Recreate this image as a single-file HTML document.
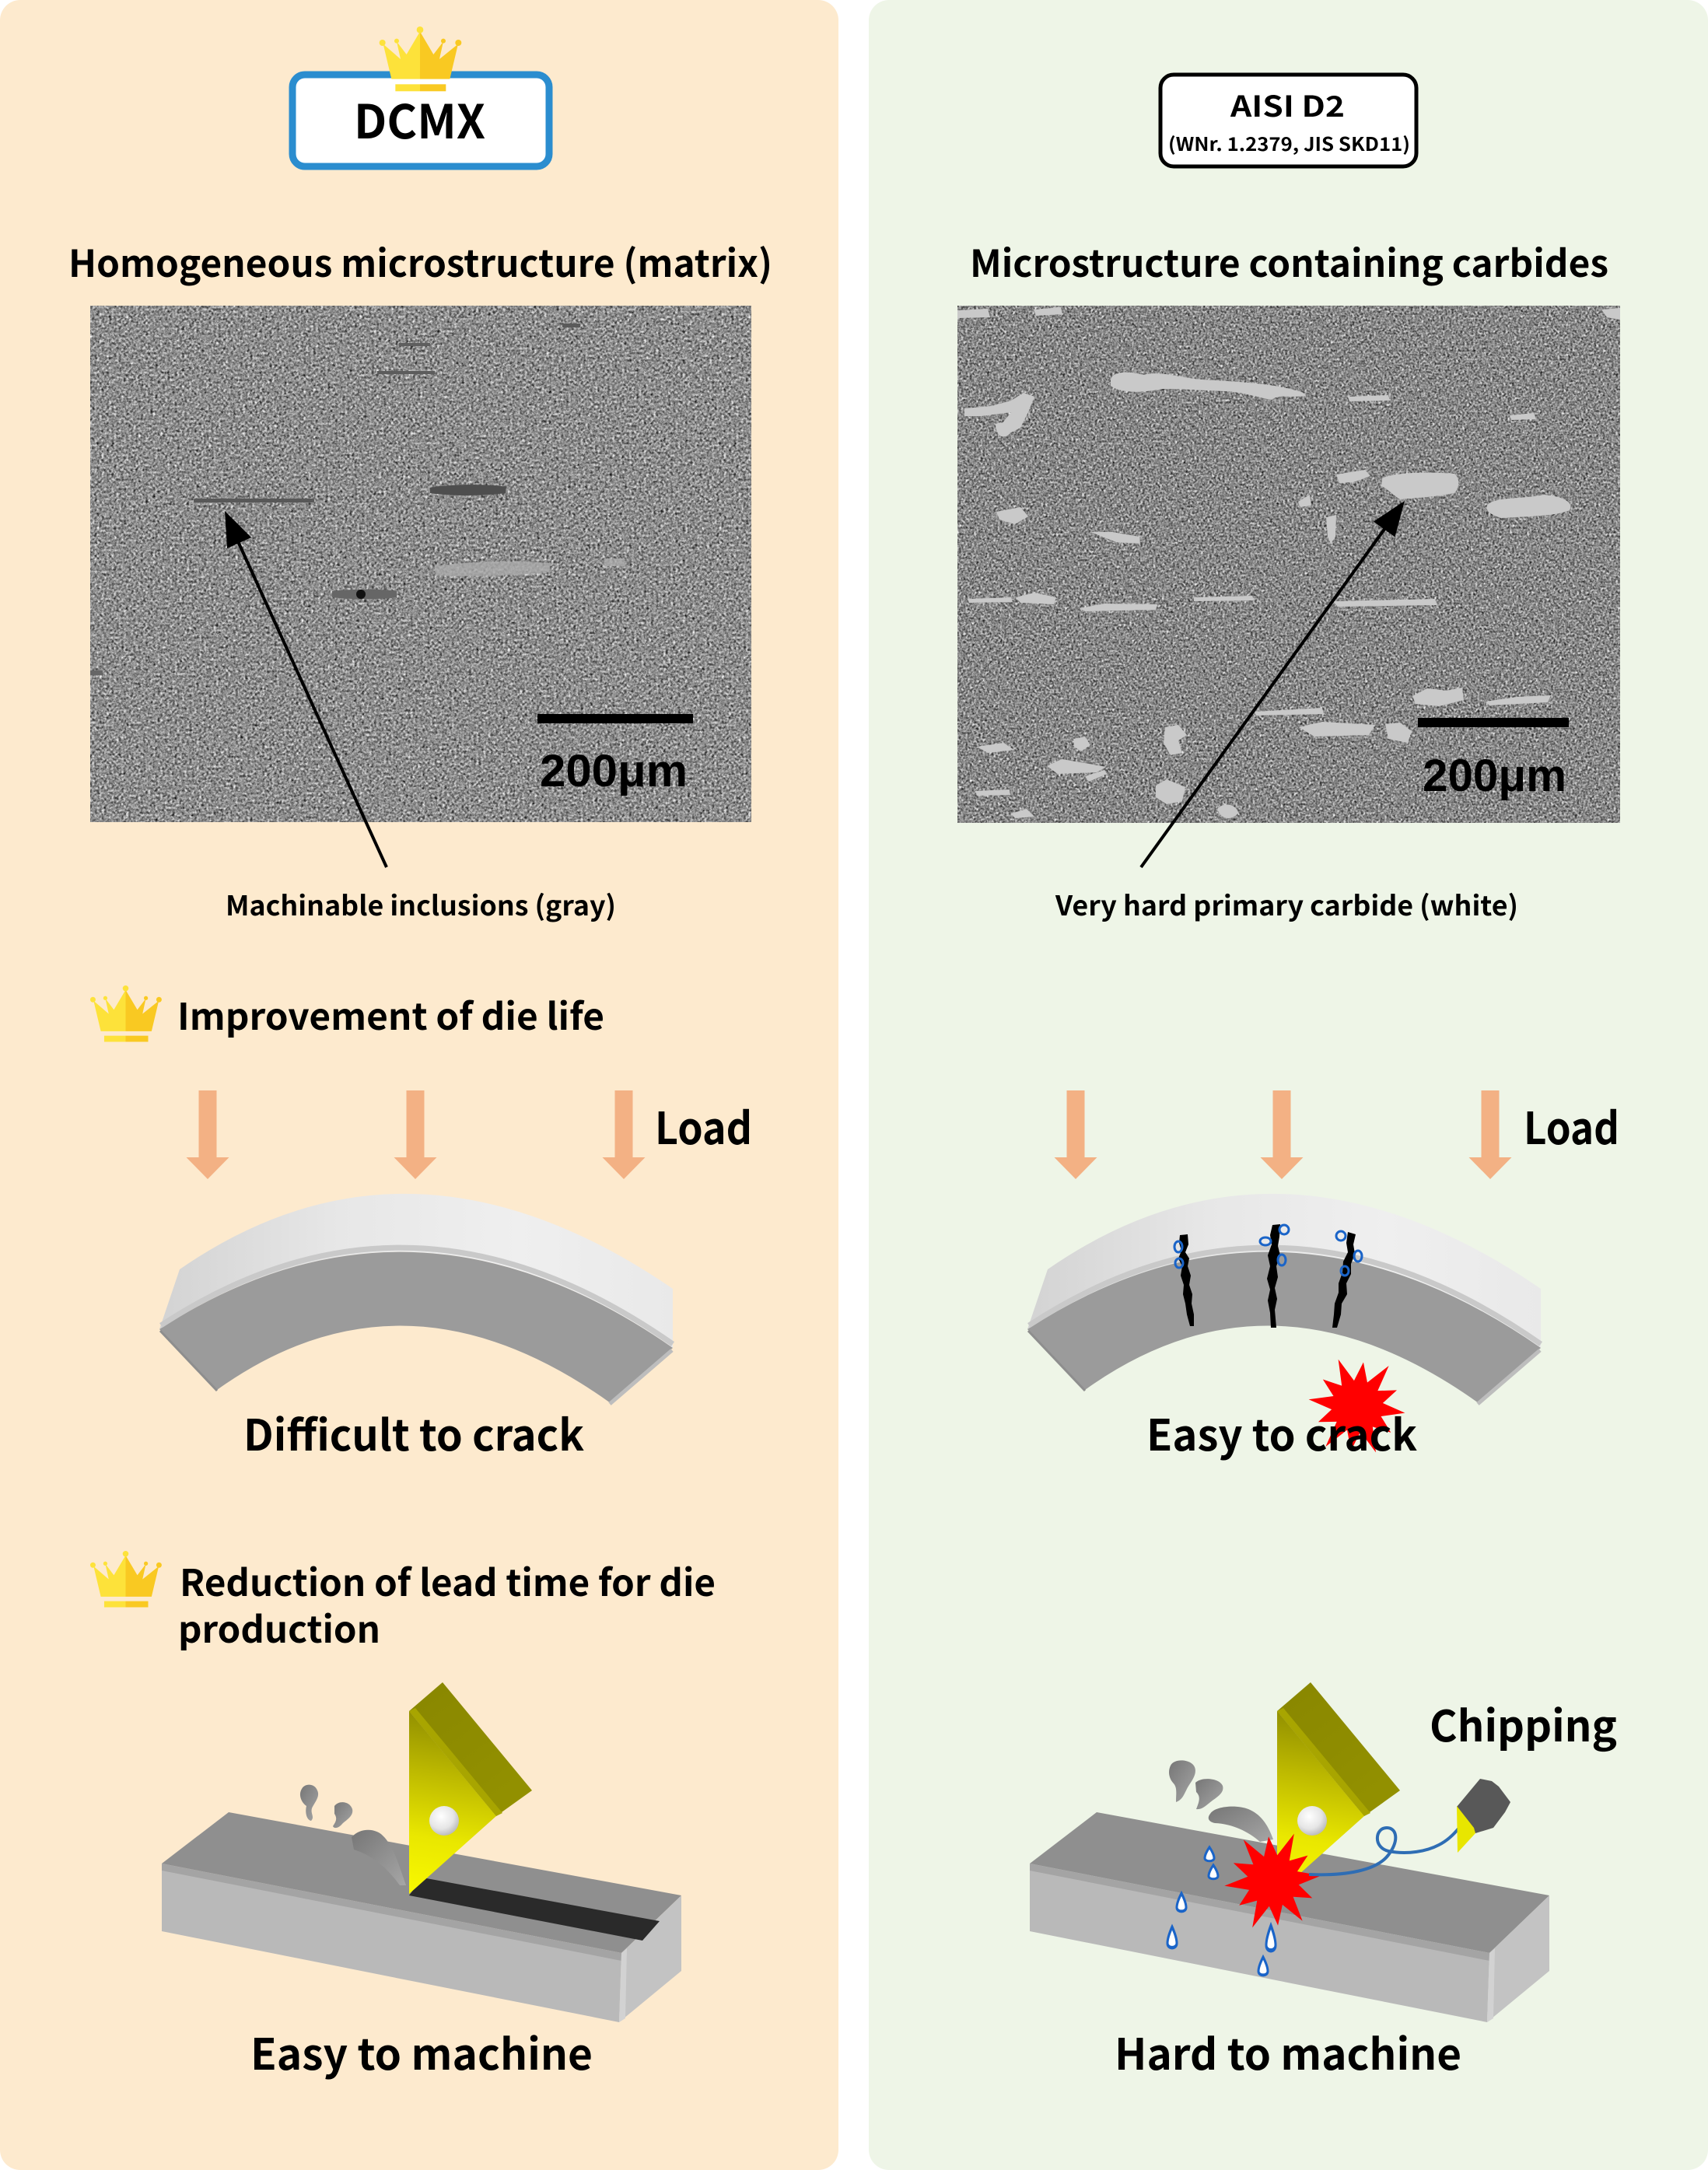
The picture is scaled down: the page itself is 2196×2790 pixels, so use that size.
<!DOCTYPE html>
<html><head><meta charset="utf-8"><style>
html,body{margin:0;padding:0;background:#fff;}
svg{display:block;}
text{font-family:"Noto Sans CJK JP","Liberation Sans",sans-serif;font-weight:700;fill:#000;}
.ar{font-family:"Liberation Sans",sans-serif;font-weight:700;}
</style></head><body>
<svg width="2196" height="2790" viewBox="0 0 2196 2790" xmlns="http://www.w3.org/2000/svg" xmlns:xlink="http://www.w3.org/1999/xlink">
<defs>
  <filter id="grainL" filterUnits="userSpaceOnUse" x="116" y="393" width="850" height="664" color-interpolation-filters="sRGB">
    <feTurbulence type="fractalNoise" baseFrequency="0.32" numOctaves="3" seed="7" result="n"/>
    <feColorMatrix in="n" type="matrix" values="0.33 0.33 0.33 0 0 0.33 0.33 0.33 0 0 0.33 0.33 0.33 0 0 0 0 0 0 1" result="g"/>
    <feComponentTransfer in="g"><feFuncR type="linear" slope="1.9" intercept="-0.39"/><feFuncG type="linear" slope="1.9" intercept="-0.39"/><feFuncB type="linear" slope="1.9" intercept="-0.39"/><feFuncA type="linear" slope="0" intercept="1"/></feComponentTransfer>
  </filter>
  <filter id="grainR" filterUnits="userSpaceOnUse" x="1231" y="393" width="852" height="665" color-interpolation-filters="sRGB">
    <feTurbulence type="fractalNoise" baseFrequency="0.36" numOctaves="3" seed="19" result="n"/>
    <feColorMatrix in="n" type="matrix" values="0.33 0.33 0.33 0 0 0.33 0.33 0.33 0 0 0.33 0.33 0.33 0 0 0 0 0 0 1" result="g"/>
    <feComponentTransfer in="g"><feFuncR type="linear" slope="1.9" intercept="-0.41"/><feFuncG type="linear" slope="1.9" intercept="-0.41"/><feFuncB type="linear" slope="1.9" intercept="-0.41"/><feFuncA type="linear" slope="0" intercept="1"/></feComponentTransfer>
  </filter>
  <linearGradient id="arcTop" gradientUnits="userSpaceOnUse" x1="205" y1="0" x2="865" y2="0">
    <stop offset="0" stop-color="#d3d3d3"/><stop offset="0.35" stop-color="#e7e7e7"/><stop offset="0.7" stop-color="#efefef"/><stop offset="1" stop-color="#e9e9e9"/>
  </linearGradient>
  <linearGradient id="toolFront" gradientUnits="userSpaceOnUse" x1="570" y1="2200" x2="530" y2="2430">
    <stop offset="0" stop-color="#8e8c00"/><stop offset="0.35" stop-color="#bdb900"/><stop offset="0.7" stop-color="#e9e700"/><stop offset="1" stop-color="#f8f800"/>
  </linearGradient>
  <linearGradient id="toolSide" gradientUnits="userSpaceOnUse" x1="560" y1="2170" x2="670" y2="2320">
    <stop offset="0" stop-color="#8a8800"/><stop offset="1" stop-color="#939100"/>
  </linearGradient>
  <radialGradient id="hole" cx="0.4" cy="0.35" r="0.7">
    <stop offset="0" stop-color="#ffffff"/><stop offset="0.6" stop-color="#e6e6e6"/><stop offset="1" stop-color="#b5b5b5"/>
  </radialGradient>
  <linearGradient id="chip" x1="0" y1="0" x2="1" y2="1">
    <stop offset="0" stop-color="#767676"/><stop offset="1" stop-color="#a6a6a6"/>
  </linearGradient>
  <g id="crown">
    <path d="M68,110 L100,245 L210,245 L210,62 L158,150 L120,100 L135,168 Z" fill="#fde23a"/>
    <path d="M210,62 L210,245 L325,245 L357,110 L285,168 L300,100 L262,150 Z" fill="#f9c922"/>
    <circle cx="65" cy="105" r="12" fill="#fde23a"/>
    <circle cx="120" cy="98" r="9" fill="#fde23a"/>
    <circle cx="210" cy="55" r="13" fill="#fde23a"/>
    <circle cx="300" cy="98" r="9" fill="#f9c922"/>
    <circle cx="358" cy="105" r="12" fill="#f9c922"/>
    <rect x="115" y="265" width="95" height="27" fill="#fde23a"/>
    <rect x="210" y="265" width="100" height="27" fill="#f9c922"/>
  </g>
  <g id="arc">
    <path d="M231,1632 Q528,1426 865,1657 L865,1733 Q529,1499 205,1709 Z" fill="url(#arcTop)"/>
    <path d="M205,1709 Q529,1499 865,1733 L785,1804 Q520,1614 279,1787 Z" fill="#9b9b9b"/>
    <path d="M207,1704 Q529,1493 865,1728" fill="none" stroke="#c9c9c9" stroke-width="7"/>
    <line x1="864" y1="1736" x2="784" y2="1805" stroke="#bdbdbd" stroke-width="5"/>
    <line x1="206" y1="1711" x2="279" y2="1788" stroke="#8e8e8e" stroke-width="3"/>
  </g>
  <g id="block">
    <polygon points="294,2330 876,2437 799,2511 208,2396" fill="#8f8f8f"/>
    <polygon points="208,2396 799,2511 796,2600 208,2483" fill="#b9b9b9"/>
    <polygon points="208,2396 799,2511 799,2521 208,2405" fill="#a4a4a4"/>
    <polygon points="799,2511 876,2437 876,2534 796,2600" fill="#c3c3c3"/>
    <polygon points="799,2511 806,2505 804,2595 796,2600" fill="#d2d2d2"/>
  </g>
  <g id="tool">
    <polygon points="569,2163 684,2302 638,2335 526,2200" fill="url(#toolSide)"/>
    <polygon points="526,2200 638,2335 526,2435" fill="url(#toolFront)"/>
    <polygon points="526,2200 534,2196 646,2331 638,2335" fill="#a8a500"/>
    <circle cx="571" cy="2341" r="19" fill="url(#hole)"/>
  </g>
  <polygon id="star" points="62,0 32,8.6 47.6,27.5 23.3,23.3 32,55.4 8.6,32 0,58 -8.6,32 -33,57.2 -23.3,23.3 -46.8,27 -32,8.6 -63,0 -32,-8.6 -48.5,-28 -23.3,-23.3 -32.5,-56.3 -8.6,-32 0,-57 8.6,-32 33,-57.2 23.3,-23.3 47.6,-27.5 32,-8.6" fill="#ff0000"/>
  <path id="drop" d="M0,-9 C4,-3 6,2 6,5 C6,10 -6,10 -6,5 C-6,2 -4,-3 0,-9 Z" fill="#fff" stroke="#1a64c8" stroke-width="3"/>
  <polygon id="loadArrow" points="-11.5,0 11.5,0 11.5,86 27.5,86 0,114 -27.5,86 -11.5,86" fill="#f3b184"/>
</defs>

<!-- panels -->
<rect x="0" y="0" width="1078" height="2790" rx="26" ry="26" fill="#fdeace"/>
<rect x="1117" y="0" width="1079" height="2790" rx="26" ry="26" fill="#eef5e7"/>

<!-- DCMX header -->
<rect x="376" y="96" width="330" height="118" rx="16" ry="16" fill="#fff" stroke="#2b8dcf" stroke-width="9"/>
<use href="#crown" xlink:href="#crown" transform="translate(470,20) scale(0.3333)"/>
<text x="455" y="178" font-size="60" textLength="169" lengthAdjust="spacingAndGlyphs">DCMX</text>

<!-- AISI header -->
<rect x="1492" y="96" width="329" height="118" rx="17" ry="17" fill="#fff" stroke="#000" stroke-width="5"/>
<text x="1582" y="150" font-size="37" textLength="147" lengthAdjust="spacingAndGlyphs">AISI D2</text>
<text x="1502" y="194" font-size="24" textLength="311" lengthAdjust="spacingAndGlyphs">(WNr. 1.2379, JIS SKD11)</text>

<!-- headings -->
<text x="88" y="356" font-size="48" textLength="905" lengthAdjust="spacingAndGlyphs">Homogeneous microstructure (matrix)</text>
<text x="1247" y="356" font-size="48" textLength="821" lengthAdjust="spacingAndGlyphs">Microstructure containing carbides</text>

<!-- left micro image -->
<rect x="116" y="393" width="850" height="664" fill="#8c8c8c" filter="url(#grainL)"/>
<g fill="#585858">
  <rect x="249" y="641" width="155" height="5" rx="2"/>
  <path d="M553,627 C580,622 630,622 651,626 L650,634 C620,638 580,638 553,634 Z" fill="#4e4e4e"/>
  <path d="M427,760 C450,757 490,757 510,760 L510,768 C490,771 450,771 427,768 Z" fill="#666"/>
  <circle cx="464" cy="764" r="6" fill="#111"/>
  <rect x="485" y="477" width="74" height="4" fill="#5c5c5c"/>
  <rect x="513" y="441" width="40" height="4" fill="#5e5e5e"/>
  <rect x="723" y="416" width="23" height="5" fill="#5a5a5a"/>
  <rect x="116" y="862" width="16" height="6" fill="#666"/>
</g>
<g fill="#ababab" opacity="0.8">
  <path d="M559,728 C600,722 660,720 708,724 L706,736 C660,740 600,742 560,740 Z"/>
  <rect x="777" y="718" width="26" height="10"/>
</g>
<rect x="691" y="918" width="200" height="12" fill="#000"/>
<text class="ar" x="694" y="1011" font-size="58" textLength="190" lengthAdjust="spacingAndGlyphs">200μm</text>
<line x1="497" y1="1115" x2="305" y2="694" stroke="#000" stroke-width="4"/>
<polygon points="289,657 323.1,691 292.1,705" fill="#000"/>
<text x="290" y="1177" font-size="35" textLength="502" lengthAdjust="spacingAndGlyphs">Machinable inclusions (gray)</text>

<!-- right micro image -->
<rect x="1231" y="393" width="852" height="665" fill="#8a8a8a" filter="url(#grainR)"/>
<g fill="#c9c9c9">
  <path d="M1428,488 C1430,478 1450,476 1470,482 C1490,476 1520,486 1545,488 C1580,490 1620,492 1650,498 C1668,502 1680,505 1678,509 C1660,512 1645,506 1635,514 C1620,512 1600,504 1575,503 C1545,502 1520,500 1495,500 C1470,505 1440,506 1428,496 Z"/>
  <path d="M1777,615 C1790,608 1830,606 1870,609 C1878,615 1876,628 1870,634 C1850,638 1825,640 1800,642 C1790,636 1784,628 1776,625 Z"/>
  <path d="M1718,610 L1755,604 L1762,612 L1740,620 L1722,621 Z"/>
  <path d="M1912,650 C1920,638 1960,642 1985,636 C2010,638 2024,646 2018,656 C2000,664 1960,664 1930,666 C1918,662 1910,658 1912,650 Z"/>
  <path d="M1281,658 L1312,652 L1322,664 L1305,674 L1285,668 Z"/>
  <path d="M1402,684 L1430,684 L1465,690 L1466,699 L1435,697 Z"/>
  <path d="M1306,768 L1330,762 L1358,768 L1355,777 L1312,775 Z"/>
  <path d="M1388,782 L1420,776 L1488,777 L1486,784 L1395,786 Z"/>
  <path d="M1714,773 L1845,770 L1848,778 L1720,780 Z"/>
  <path d="M1535,768 L1610,766 L1612,772 L1535,773 Z"/>
  <path d="M1816,895 L1835,885 L1860,888 L1880,884 L1882,900 L1850,908 L1820,905 Z"/>
  <path d="M1910,902 L1950,896 L1994,894 L1990,903 L1915,907 Z"/>
  <path d="M1613,915 L1700,910 L1702,918 L1615,920 Z"/>
  <path d="M1498,935 L1515,932 L1526,945 L1515,952 L1520,968 L1505,971 L1496,955 Z"/>
  <path d="M1486,1010 L1500,1002 L1524,1012 L1520,1030 L1500,1034 L1486,1025 Z"/>
  <path d="M1256,960 L1290,955 L1304,964 L1270,968 Z"/>
  <path d="M1346,985 L1365,976 L1400,982 L1422,986 L1410,993 L1360,995 Z"/>
  <path d="M1395,998 L1420,990 L1423,995 L1400,1005 Z"/>
  <path d="M1254,1017 L1298,1015 L1299,1022 L1256,1023 Z"/>
  <path d="M1240,525 L1275,522 L1300,515 L1316,505 L1330,510 L1322,530 L1312,550 L1296,558 L1288,545 L1300,530 L1262,535 L1240,535 Z"/>
  <path d="M1280,545 C1290,540 1300,548 1298,558 C1290,566 1280,560 1280,545 Z"/>
  <path d="M1231,399 L1270,397 L1273,408 L1231,409 Z"/>
  <path d="M1329,398 L1364,395 L1366,404 L1332,406 Z"/>
  <path d="M2059,398 L2083,396 L2083,411 L2066,408 Z"/>
  <path d="M1941,534 L1972,531 L1975,539 L1943,540 Z"/>
  <path d="M1733,510 L1785,508 L1787,515 L1735,516 Z"/>
  <path d="M1705,665 L1718,662 L1717,690 L1711,699 L1707,690 Z"/>
  <path d="M1670,935 L1700,928 L1768,932 L1760,945 L1690,947 Z"/>
  <path d="M1781,931 L1800,929 L1815,940 L1810,955 L1785,950 Z"/>
  <path d="M1380,950 L1395,947 L1402,958 L1390,966 L1381,960 Z"/>
  <path d="M1669,645 L1684,636 L1686,650 L1672,652 Z"/>
  <path d="M1244,770 L1300,768 L1302,774 L1246,775 Z"/>
  <path d="M1300,1046 L1320,1040 L1330,1050 L1305,1052 Z"/>
  <path d="M1565,1040 C1575,1030 1590,1035 1592,1045 C1585,1055 1570,1055 1565,1040 Z"/>
</g>
<rect x="1823" y="923" width="194" height="12" fill="#000"/>
<text class="ar" x="1829" y="1017" font-size="58" textLength="185" lengthAdjust="spacingAndGlyphs">200μm</text>
<line x1="1467" y1="1115" x2="1786" y2="672" stroke="#000" stroke-width="4"/>
<polygon points="1806,644 1793.5,690.4 1765.9,670.6" fill="#000"/>
<text x="1357" y="1177" font-size="35" textLength="595" lengthAdjust="spacingAndGlyphs">Very hard primary carbide (white)</text>

<!-- Improvement of die life -->
<use href="#crown" xlink:href="#crown" transform="translate(100.6,1254.8) scale(0.29)"/>
<text x="228" y="1324" font-size="47" textLength="549" lengthAdjust="spacingAndGlyphs">Improvement of die life</text>

<!-- load arrows -->
<use href="#loadArrow" xlink:href="#loadArrow" x="267" y="1402"/>
<use href="#loadArrow" xlink:href="#loadArrow" x="534" y="1402"/>
<use href="#loadArrow" xlink:href="#loadArrow" x="802" y="1402"/>
<text x="842" y="1471" font-size="57" textLength="125" lengthAdjust="spacingAndGlyphs">Load</text>
<use href="#loadArrow" xlink:href="#loadArrow" x="1383" y="1402"/>
<use href="#loadArrow" xlink:href="#loadArrow" x="1648" y="1402"/>
<use href="#loadArrow" xlink:href="#loadArrow" x="1916" y="1402"/>
<text x="1959" y="1471" font-size="57" textLength="123" lengthAdjust="spacingAndGlyphs">Load</text>

<!-- arcs -->
<use href="#arc" xlink:href="#arc"/>
<use href="#arc" xlink:href="#arc" x="1116"/>

<!-- cracks -->
<g fill="#000">
  <polygon points="1517,1588 1527,1587 1528,1600 1524,1610 1529,1618 1527,1628 1531,1640 1529,1652 1533,1664 1532,1676 1535,1690 1535,1705 1530,1705 1526,1690 1524,1676 1521,1664 1522,1652 1518,1640 1520,1628 1515,1618 1519,1608 1516,1598"/>
  <polygon points="1636,1575 1646,1574 1645,1590 1643,1602 1646,1614 1641,1628 1643,1642 1639,1656 1642,1670 1639,1684 1641,1707 1634,1707 1633,1688 1630,1672 1633,1658 1629,1644 1633,1628 1630,1614 1635,1600 1633,1588"/>
  <polygon points="1733,1584 1743,1587 1740,1600 1742,1612 1737,1625 1737,1638 1731,1650 1732,1664 1725,1676 1724,1690 1719,1707 1713,1707 1715,1690 1716,1676 1721,1662 1721,1650 1726,1636 1727,1622 1733,1610 1731,1598"/>
</g>
<g fill="none" stroke="#1a64c8" stroke-width="3">
  <ellipse cx="1515" cy="1603" rx="5" ry="7"/>
  <ellipse cx="1516" cy="1624" rx="5" ry="6"/>
  <ellipse cx="1627" cy="1596" rx="7" ry="5"/>
  <ellipse cx="1651" cy="1581" rx="6" ry="6"/>
  <ellipse cx="1648" cy="1620" rx="5" ry="7"/>
  <ellipse cx="1724" cy="1589" rx="6" ry="6"/>
  <ellipse cx="1746" cy="1615" rx="5" ry="7"/>
  <ellipse cx="1729" cy="1634" rx="5" ry="6"/>
</g>

<text x="313" y="1865" font-size="55" textLength="438" lengthAdjust="spacingAndGlyphs">Difficult to crack</text>
<use href="#star" xlink:href="#star" transform="translate(1745,1808) rotate(8)"/>
<text x="1474" y="1865" font-size="55" textLength="348" lengthAdjust="spacingAndGlyphs">Easy to crack</text>

<!-- Reduction of lead time -->
<use href="#crown" xlink:href="#crown" transform="translate(100.6,1981.8) scale(0.29)"/>
<text x="231" y="2052" font-size="47" textLength="689" lengthAdjust="spacingAndGlyphs">Reduction of lead time for die</text>
<text x="229" y="2112" font-size="47" textLength="260" lengthAdjust="spacingAndGlyphs">production</text>

<!-- left machining -->
<use href="#block" xlink:href="#block"/>
<polygon points="543,2414 848,2470 826,2495 526,2437" fill="#2a2a2a"/>
<g fill="url(#chip)">
  <path d="M388,2300 C392,2292 405,2293 408,2302 C412,2310 404,2318 401,2325 C399,2332 405,2336 400,2341 C394,2340 392,2330 394,2322 C388,2318 383,2308 388,2300 Z"/>
  <path d="M430,2322 C436,2314 450,2316 453,2326 C455,2335 445,2340 440,2345 C436,2350 430,2352 428,2348 C432,2342 434,2338 430,2332 Z"/>
  <path d="M452,2362 C465,2348 485,2352 492,2360 C505,2372 512,2395 522,2424 L514,2424 C498,2402 480,2386 455,2378 Z"/>
</g>
<use href="#tool" xlink:href="#tool"/>
<text x="322" y="2661" font-size="55" textLength="440" lengthAdjust="spacingAndGlyphs">Easy to machine</text>

<!-- right machining -->
<use href="#block" xlink:href="#block" x="1116"/>
<g fill="url(#chip)">
  <path d="M1505,2270 C1510,2260 1532,2262 1536,2272 C1540,2282 1530,2292 1526,2300 C1522,2308 1520,2314 1512,2317 C1512,2305 1514,2298 1508,2292 C1502,2285 1502,2276 1505,2270 Z"/>
  <path d="M1537,2292 C1545,2284 1568,2286 1572,2296 C1575,2306 1562,2312 1555,2318 C1550,2322 1545,2327 1538,2326 C1542,2316 1544,2310 1538,2304 Z"/>
  <path d="M1556,2332 C1562,2322 1590,2320 1605,2326 C1620,2332 1630,2345 1637,2365 L1620,2368 C1605,2355 1585,2345 1562,2344 C1553,2342 1552,2337 1556,2332 Z"/>
</g>
<use href="#tool" xlink:href="#tool" x="1116"/>
<use href="#star" xlink:href="#star" transform="translate(1637,2418) rotate(-6)"/>
<path d="M1683,2410 C1730,2412 1770,2405 1785,2385 C1800,2365 1795,2350 1783,2350 C1768,2350 1765,2375 1785,2380 C1810,2385 1835,2380 1850,2372 C1860,2367 1868,2360 1876,2350" fill="none" stroke="#2e6db4" stroke-width="4"/>
<polygon points="1873,2323 1903,2287 1918,2290 1927,2297 1942,2317 1935,2330 1920,2350 1897,2357" fill="#585858"/>
<polygon points="1873,2322 1884,2336 1895,2350 1897,2357 1874,2382" fill="#e8e600"/>
<g>
  <use href="#drop" xlink:href="#drop" transform="translate(1555,2384)"/>
  <use href="#drop" xlink:href="#drop" transform="translate(1560,2407)"/>
  <use href="#drop" xlink:href="#drop" transform="translate(1519,2446) scale(1,1.3)"/>
  <use href="#drop" xlink:href="#drop" transform="translate(1507,2491) scale(1,1.5)"/>
  <use href="#drop" xlink:href="#drop" transform="translate(1634,2492) scale(1,1.8)"/>
  <use href="#drop" xlink:href="#drop" transform="translate(1624,2528) scale(1,1.3)"/>
</g>
<text x="1838" y="2239" font-size="55" textLength="241" lengthAdjust="spacingAndGlyphs">Chipping</text>
<text x="1433" y="2661" font-size="55" textLength="446" lengthAdjust="spacingAndGlyphs">Hard to machine</text>
</svg>
</body></html>
